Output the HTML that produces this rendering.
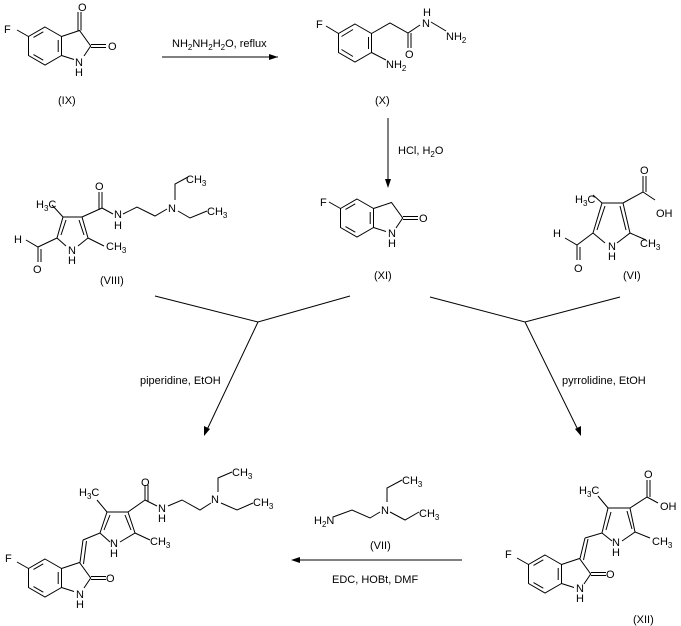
<!DOCTYPE html>
<html><head><meta charset="utf-8"><style>
html,body{margin:0;padding:0;background:#fff}
svg{display:block}
text{font-family:"Liberation Sans",sans-serif;font-size:11px;fill:#000}
.s{font-size:8px}
</style></head><body>
<svg width="681" height="626" viewBox="0 0 681 626" xmlns="http://www.w3.org/2000/svg">
<defs>
<g id="ox" stroke="#000" stroke-width="1" fill="none">
<path d="M0,-19 L16.5,-9.5 L16.5,9.5 L0,19 L-16.5,9.5 L-16.5,-9.5 Z"/>
<path d="M-11.5,-8.6 L-1.7,-14.2 M13.2,-6 L13.2,6 M-11.5,8.6 L-1.7,14.2"/>
<path d="M16.5,-9.5 L34.5,-15.5 L45.7,0 L39,10 M16.5,9.5 L29,13.5"/>
<path d="M46,-1.5 L61,-1.5 M46,1.5 L61,1.5"/>
<path d="M-16.5,-9.5 L-28,-16"/>
</g>
</defs>
<g stroke="#000" stroke-width="1" fill="none">
<path d="M162,57 L278,57"/>
<path d="M388,118 L388,186"/>
<path d="M155,296 L258,322 L350,296 M258,322 L205,434"/>
<path d="M430,297 L525,322 L620,297 M525,322 L580,434"/>
<path d="M462,560 L293,560"/>
<path d="M78,30.5 L78,12 M81,30.5 L81,12"/>
<path d="M355,24 L371.5,33.5 L371.5,52.5 L355,62 L338.5,52.5 L338.5,33.5 Z M341.5,36.5 L353,29.5 M368.5,37 L368.5,49 M341.5,49.5 L353,56.5"/>
<path d="M338.5,33.5 L326,26 M371.5,33.5 L390,23 L408,33 L420,25 M408,33 L408,48 M411,33 L411,48 M431,22 L446,31 M371.5,52.5 L386,60"/>
<path d="M57,238 L63,217 L82,217 L88,238 L78,246 M57,238 L66,246 M61,235 L66,220 M84,235 L79,220"/>
<path d="M63,217 L52,205 M88,238 L104,246 M57,238 L38,247 L26,240 M38,247 L38,262 M41,249 L41,262"/>
<path d="M82,217 L102,208 L102,192 M99,210 L99,192 M102,208 L113,214 M123,214 L137,207 L155,216 L167,209 M175,200 L175,184 L188,177 M178,211 L190,218 L207,211"/>
<path d="M593,233 L602,203 L623,203 L630,233 L617,243 M593,233 L605,243 M597,230 L605,206 M626,230 L620,206"/>
<path d="M602,203 L593,195 M623,203 L643,192 L643,176 M646,192 L646,176 M643,192 L655,200 M630,233 L646,240 M593,233 L577,245 L565,238 M577,245 L577,260 M580,247 L580,260"/>
<path d="M80,562.5 L83,540 M83.5,564 L86.5,541 M83,540 L100,533 L107,512 L128,512 L135,533 L120,542 M100,533 L110,542 M104,530 L110,515 M131,530 L125,515"/>
<path d="M107,512 L97,500 M135,533 L150,540 M128,512 L145,500 L145,485 M148,502 L148,485 M145,500 L157,506 M168,506 L182,500 L200,510 L211,503 M218,492 L218,478 L232,472 M221,503 L237,510 L253,503"/>
<path d="M333,517 L352,510 L370,518 L380,512 M387,502 L387,488 L402,480 M390,512 L405,520 L419,512"/>
<path d="M580,558.5 L585,538 M583.5,560 L588,539 M585,538 L602,533 L608,508 L630,508 L635,532 L622,541 M602,533 L612,541 M606,530 L611,512 M632,529 L627,511"/>
<path d="M608,508 L598,496 M635,532 L650,538 M630,508 L647,497 L647,480 M650,497 L650,480 M647,497 L658,503"/>
</g>
<polygon points="278,57 269,54 269,60" fill="#000"/>
<polygon points="388,188 385,179 391,179" fill="#000"/>
<polygon points="204,436 204,426 210,429" fill="#000"/>
<polygon points="581,436 575,429 581,426" fill="#000"/>
<polygon points="291,560 300,557 300,563" fill="#000"/>
<use href="#ox" x="45" y="46"/>
<use href="#ox" x="357" y="218"/>
<use href="#ox" x="45" y="578"/>
<use href="#ox" x="545" y="574"/>
<text x="4" y="33">F</text><text x="78" y="11">O</text><text x="108" y="50">O</text>
<text x="75" y="66">N</text><text x="75" y="76">H</text>
<text x="58" y="104">(IX)</text>
<text x="172" y="47">NH<tspan class="s" dy="3">2</tspan><tspan dy="-3">NH</tspan><tspan class="s" dy="3">2</tspan><tspan dy="-3">H</tspan><tspan class="s" dy="3">2</tspan><tspan dy="-3">O, reflux</tspan></text>
<text x="316" y="28">F</text><text x="405" y="58">O</text>
<text x="422" y="27">N</text><text x="423" y="16">H</text>
<text x="446" y="40">NH<tspan class="s" dy="3">2</tspan></text>
<text x="386" y="68">NH<tspan class="s" dy="3">2</tspan></text>
<text x="375" y="104">(X)</text>
<text x="398" y="154">HCl, H<tspan class="s" dy="3">2</tspan><tspan dy="-3">O</tspan></text>
<text x="320" y="206">F</text><text x="419" y="222">O</text>
<text x="388" y="237">N</text><text x="388" y="247">H</text>
<text x="374" y="279">(XI)</text>
<text x="36" y="208">H<tspan class="s" dy="3">3</tspan><tspan dy="-3">C</tspan></text>
<text x="14" y="243">H</text><text x="33" y="273">O</text>
<text x="68" y="254">N</text><text x="68" y="264">H</text>
<text x="106" y="250">CH<tspan class="s" dy="3">3</tspan></text>
<text x="95" y="190">O</text>
<text x="114" y="218">N</text><text x="114" y="229">H</text>
<text x="168" y="212">N</text>
<text x="186" y="183">CH<tspan class="s" dy="3">3</tspan></text>
<text x="207" y="215">CH<tspan class="s" dy="3">3</tspan></text>
<text x="100" y="284">(VIII)</text>
<text x="575" y="203">H<tspan class="s" dy="3">3</tspan><tspan dy="-3">C</tspan></text>
<text x="553" y="237">H</text><text x="574" y="272">O</text>
<text x="608" y="250">N</text><text x="608" y="260">H</text>
<text x="640" y="247">CH<tspan class="s" dy="3">3</tspan></text>
<text x="640" y="174">O</text><text x="656" y="217">OH</text>
<text x="623" y="279">(VI)</text>
<text x="140" y="384">piperidine, EtOH</text>
<text x="562" y="384">pyrrolidine, EtOH</text>
<text x="5" y="562">F</text><text x="106" y="582">O</text>
<text x="76" y="598">N</text><text x="76" y="608">H</text>
<text x="79" y="496">H<tspan class="s" dy="3">3</tspan><tspan dy="-3">C</tspan></text>
<text x="110" y="547">N</text><text x="110" y="557">H</text>
<text x="150" y="545">CH<tspan class="s" dy="3">3</tspan></text>
<text x="141" y="486">O</text>
<text x="158" y="512">N</text><text x="158" y="522">H</text>
<text x="211" y="503">N</text>
<text x="232" y="476">CH<tspan class="s" dy="3">3</tspan></text>
<text x="253" y="506">CH<tspan class="s" dy="3">3</tspan></text>
<text x="314" y="524">H<tspan class="s" dy="3">2</tspan><tspan dy="-3">N</tspan></text>
<text x="381" y="514">N</text>
<text x="402" y="484">CH<tspan class="s" dy="3">3</tspan></text>
<text x="419" y="517">CH<tspan class="s" dy="3">3</tspan></text>
<text x="370" y="549">(VII)</text>
<text x="332" y="583">EDC, HOBt, DMF</text>
<text x="505" y="558">F</text><text x="606" y="578">O</text>
<text x="576" y="592">N</text><text x="576" y="602">H</text>
<text x="579" y="494">H<tspan class="s" dy="3">3</tspan><tspan dy="-3">C</tspan></text>
<text x="612" y="546">N</text><text x="612" y="556">H</text>
<text x="652" y="545">CH<tspan class="s" dy="3">3</tspan></text>
<text x="644" y="478">O</text><text x="660" y="510">OH</text>
<text x="633" y="623">(XII)</text>
</svg>
</body></html>
